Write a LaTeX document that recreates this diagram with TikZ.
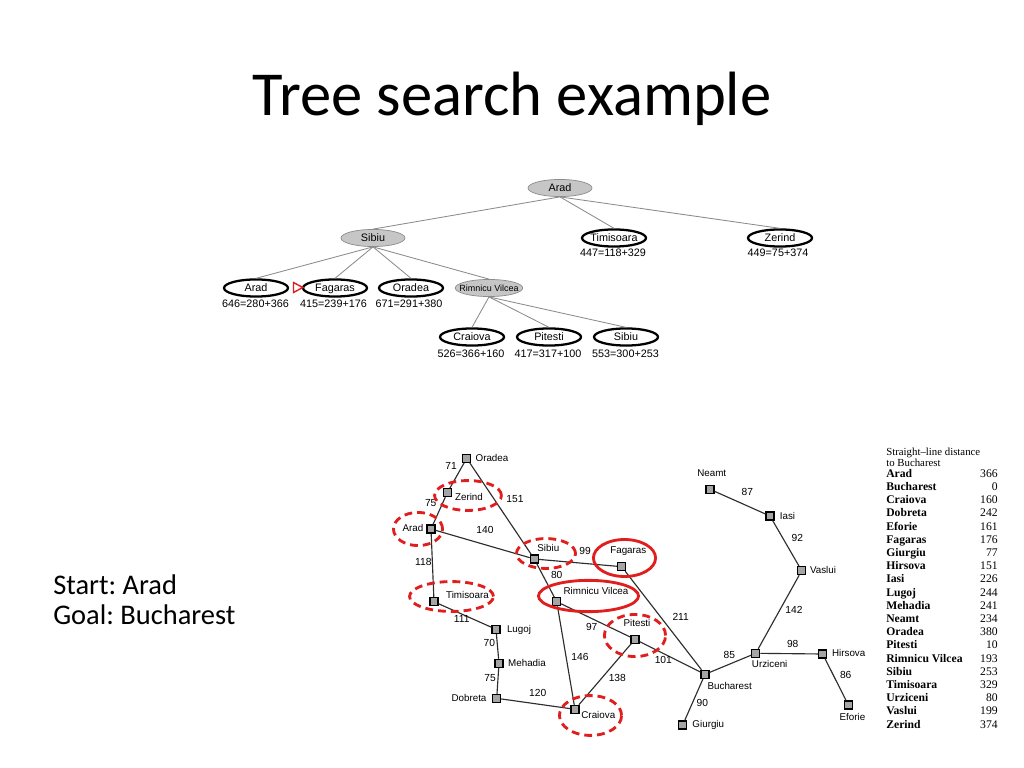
\documentclass[tikz,border=0pt]{standalone}
\usepackage{fontspec}
\setmainfont{Carlito}
\newfontfamily\arialfont{Liberation Sans}
\newfontfamily\timesfont{Liberation Serif}
\usetikzlibrary{shapes.geometric}
\definecolor{nodegray}{RGB}{198,198,198}
\definecolor{citygray}{RGB}{165,165,165}
\definecolor{edgegray}{RGB}{140,140,140}
\definecolor{mapline}{RGB}{45,45,45}
\definecolor{markred}{RGB}{225,30,30}
\frenchspacing
\begin{document}
\begin{tikzpicture}[x=0.703125pt,y=-0.703125pt,
  treenode/.style={ellipse, minimum width=45pt, minimum height=12pt, inner xsep=-4pt, inner ysep=0pt, text height=5.4pt, text depth=0pt, font=\arialfont\fontsize{7.6}{8}\selectfont},
  opennode/.style={treenode, draw=black, line width=1.6pt, fill=white},
  closednode/.style={treenode, draw=edgegray, line width=0.5pt, fill=nodegray},
  fval/.style={font=\arialfont\fontsize{7.6}{8}\selectfont, inner sep=0pt, text height=5.4pt, text depth=0pt},
  treeedge/.style={draw=edgegray, line width=0.6pt},
  city/.style={rectangle, draw=black, fill=citygray, line width=0.9pt, minimum size=5.5pt, inner sep=0pt},
  cname/.style={font=\arialfont\fontsize{6.9}{7}\selectfont, inner sep=0pt, text height=4.9pt, text depth=0pt},
  dist/.style={font=\arialfont\fontsize{7.2}{8}\selectfont, inner sep=0pt, text height=5.1pt, text depth=0pt},
  road/.style={draw=mapline, line width=0.8pt},
  ring/.style={ellipse, draw=markred, line width=2pt, inner sep=0pt},
  dring/.style={ring, dash pattern=on 5.5pt off 3.5pt},
  lhead/.style={font=\timesfont\fontsize{7.6}{8}\selectfont, anchor=west, inner sep=0pt, text height=5pt, text depth=0pt},
  lname/.style={font=\timesfont\bfseries\fontsize{8.2}{9}\selectfont, anchor=west, inner sep=0pt, text height=5.4pt, text depth=0pt},
  lval/.style={font=\timesfont\fontsize{8.2}{9}\selectfont, anchor=east, inner sep=0pt, text height=5.4pt, text depth=0pt},
]
\useasboundingbox (0,0) rectangle (1024,768);

% title and side text
\node[anchor=base, inner sep=0pt, font=\fontsize{44}{50}\selectfont] (title) at (512,116) {Tree search example};
\node[anchor=base west, inner sep=0pt, font=\fontsize{20}{24}\selectfont] (start) at (53,594) {Start: Arad};
\node[anchor=base west, inner sep=0pt, font=\fontsize{20}{24}\selectfont] (goal) at (53,624) {Goal: Bucharest};

% ---------- search tree ----------
\node[closednode] (tArad) at (560,188) {Arad};
\node[closednode] (tSibiu) at (373,238) {Sibiu};
\node[opennode] (tTimisoara) at (614,238) {Timisoara};
\node[opennode] (tZerind) at (780,238) {Zerind};
\node[opennode] (tArad2) at (256,288) {Arad};
\node[opennode] (tFagaras) at (335,288) {Fagaras};
\node[opennode] (tOradea) at (411,288) {Oradea};
\node[closednode, font=\arialfont\fontsize{6.3}{7}\selectfont, text height=4.5pt] (tRimnicu) at (489,288) {Rimnicu Vilcea};
\node[opennode] (tCraiova) at (472,337) {Craiova};
\node[opennode] (tPitesti) at (549,337) {Pitesti};
\node[opennode] (tSibiu2) at (626,337) {Sibiu};

\node[fval] (fTim) at (613,253) {447=118+329};
\node[fval] (fZer) at (778,253) {449=75+374};
\node[fval] (fArad) at (255.5,304) {646=280+366};
\node[fval] (fFag) at (333.5,304) {415=239+176};
\node[fval] (fOra) at (409,304) {671=291+380};
\node[fval] (fCra) at (471,354) {526=366+160};
\node[fval] (fPit) at (548,354) {417=317+100};
\node[fval] (fSib) at (625.5,354) {553=300+253};

\node[isosceles triangle, draw=markred, line width=1pt, minimum height=6.5pt, minimum width=7pt, inner sep=0pt, isosceles triangle stretches] (marker) at (296.5,287.5) {};

\draw[treeedge] (tArad.south) -- (tSibiu.north);
\draw[treeedge] (tArad.south) -- (tTimisoara.north);
\draw[treeedge] (tArad.south) -- (tZerind.north);
\draw[treeedge] (tSibiu.south) -- (tArad2.north);
\draw[treeedge] (tSibiu.south) -- (tFagaras.north);
\draw[treeedge] (tSibiu.south) -- (tOradea.north);
\draw[treeedge] (tSibiu.south) -- (tRimnicu.north);
\draw[treeedge] (tRimnicu.south) -- (tCraiova.north);
\draw[treeedge] (tRimnicu.south) -- (tPitesti.north);
\draw[treeedge] (tRimnicu.south) -- (tSibiu2.north);

% ---------- Romania map ----------
\node[city] (Oradea) at (466.7,458.3) {};
\node[city] (Zerind) at (447.3,492.7) {};
\node[city] (Arad) at (431,529) {};
\node[city] (Sibiu) at (534.3,559) {};
\node[city] (Fagaras) at (621.7,566.7) {};
\node[city] (Rimnicu) at (556.7,601.7) {};
\node[city] (Timisoara) at (434,601.7) {};
\node[city] (Lugoj) at (496,629.3) {};
\node[city] (Mehadia) at (499,663.3) {};
\node[city] (Dobreta) at (496.7,698.3) {};
\node[city] (Craiova) at (575,709.3) {};
\node[city] (Pitesti) at (635,639.3) {};
\node[city] (Bucharest) at (705,674.3) {};
\node[city] (Giurgiu) at (682.7,725) {};
\node[city] (Urziceni) at (755.7,653.3) {};
\node[city] (Hirsova) at (822.7,654) {};
\node[city] (Eforie) at (848.3,705) {};
\node[city] (Vaslui) at (801.7,570.7) {};
\node[city] (Iasi) at (770,516) {};
\node[city] (Neamt) at (710,489.3) {};

\draw[road] (Oradea) -- (Zerind);
\draw[road] (Zerind) -- (Arad);
\draw[road] (Oradea) -- (Sibiu);
\draw[road] (Arad) -- (Sibiu);
\draw[road] (Arad) -- (Timisoara);
\draw[road] (Timisoara) -- (Lugoj);
\draw[road] (Lugoj) -- (Mehadia);
\draw[road] (Mehadia) -- (Dobreta);
\draw[road] (Dobreta) -- (Craiova);
\draw[road] (Sibiu) -- (Fagaras);
\draw[road] (Sibiu) -- (Rimnicu);
\draw[road] (Rimnicu) -- (Pitesti);
\draw[road] (Rimnicu) -- (Craiova);
\draw[road] (Craiova) -- (Pitesti);
\draw[road] (Pitesti) -- (Bucharest);
\draw[road] (Fagaras) -- (Bucharest);
\draw[road] (Bucharest) -- (Giurgiu);
\draw[road] (Bucharest) -- (Urziceni);
\draw[road] (Urziceni) -- (Hirsova);
\draw[road] (Hirsova) -- (Eforie);
\draw[road] (Urziceni) -- (Vaslui);
\draw[road] (Vaslui) -- (Iasi);
\draw[road] (Iasi) -- (Neamt);

% city names
\node[cname] (nOradea) at (492,458) {Oradea};
\node[cname] (nZerind) at (469,497) {Zerind};
\node[cname] (nArad) at (413,528.3) {Arad};
\node[cname] (nSibiu) at (548.3,547.7) {Sibiu};
\node[cname] (nFagaras) at (628.3,550) {Fagaras};
\node[cname] (nRimnicu) at (596,590.7) {Rimnicu Vilcea};
\node[cname] (nTimisoara) at (467.5,595.3) {Timisoara};
\node[cname] (nLugoj) at (519,629) {Lugoj};
\node[cname] (nMehadia) at (527,663.3) {Mehadia};
\node[cname] (nDobreta) at (469,698.3) {Dobreta};
\node[cname] (nCraiova) at (598.3,715) {Craiova};
\node[cname] (nPitesti) at (637,623.3) {Pitesti};
\node[cname] (nNeamt) at (711.7,473.3) {Neamt};
\node[cname] (nIasi) at (787.5,516) {Iasi};
\node[cname] (nVaslui) at (823,570.5) {Vaslui};
\node[cname] (nUrziceni) at (769.7,664.3) {Urziceni};
\node[cname] (nHirsova) at (848.7,653.3) {Hirsova};
\node[cname] (nEforie) at (852.5,716.7) {Eforie};
\node[cname] (nBucharest) at (729.7,686) {Bucharest};
\node[cname] (nGiurgiu) at (708.3,724.3) {Giurgiu};

% distances
\node[dist] (d71) at (451,466) {71};
\node[dist] (d75a) at (430.7,503.3) {75};
\node[dist] (d151) at (515,499.3) {151};
\node[dist] (d140) at (485,530) {140};
\node[dist] (d118) at (423.3,561.7) {118};
\node[dist] (d99) at (585,551) {99};
\node[dist] (d80) at (556.7,575) {80};
\node[dist] (d111) at (461.7,619.3) {111};
\node[dist] (d97) at (591.7,626.7) {97};
\node[dist] (d70) at (489.3,643.3) {70};
\node[dist] (d146) at (580,656.7) {146};
\node[dist] (d101) at (663.3,660) {101};
\node[dist] (d75b) at (490,678.3) {75};
\node[dist] (d138) at (617.3,678.3) {138};
\node[dist] (d120) at (537.7,692.7) {120};
\node[dist] (d211) at (680.7,616.7) {211};
\node[dist] (d87) at (747.3,491.7) {87};
\node[dist] (d92) at (797.3,537.7) {92};
\node[dist] (d142) at (794,610) {142};
\node[dist] (d85) at (729.3,655) {85};
\node[dist] (d98) at (792.7,644) {98};
\node[dist] (d86) at (845.7,675) {86};
\node[dist] (d90) at (702.3,703.3) {90};

% red markings
\node[dring, minimum width=47pt, minimum height=21pt] (rZerind) at (468,495.5) {};
\node[dring, minimum width=34.5pt, minimum height=23.3pt] (rArad) at (418,529) {};
\node[dring, minimum width=41.5pt, minimum height=21pt] (rSibiu) at (546,553.5) {};
\node[dring, minimum width=59pt, minimum height=21pt] (rTimisoara) at (451.5,596.5) {};
\node[dring, minimum width=43pt, minimum height=29.6pt] (rPitesti) at (635,635.5) {};
\node[dring, minimum width=43.7pt, minimum height=28pt] (rCraiova) at (590.5,715.5) {};
\node[ring, minimum width=43.7pt, minimum height=26pt] (rFagaras) at (624.5,558) {};
\node[ring, minimum width=70.4pt, minimum height=22pt] (rRimnicu) at (588.5,596) {};

% ---------- legend ----------
\node[lhead] (lh1) at (886,452) {Straight–line distance};
\node[lhead] (lh2) at (886,462.5) {to Bucharest};
\foreach [count=\i] \n/\v in {Arad/366, Bucharest/0, Craiova/160, Dobreta/242, Eforie/161, Fagaras/176, Giurgiu/77, Hirsova/151, Iasi/226, Lugoj/244, Mehadia/241, Neamt/234, Oradea/380, Pitesti/10, Rimnicu Vilcea/193, Sibiu/253, Timisoara/329, Urziceni/80, Vaslui/199, Zerind/374} {
  \node[lname] (ln\i) at (886,460.3+\i*13.2) {\n};
  \node[lval] (lv\i) at (998,460.3+\i*13.2) {\v};
}
\end{tikzpicture}
\end{document}
